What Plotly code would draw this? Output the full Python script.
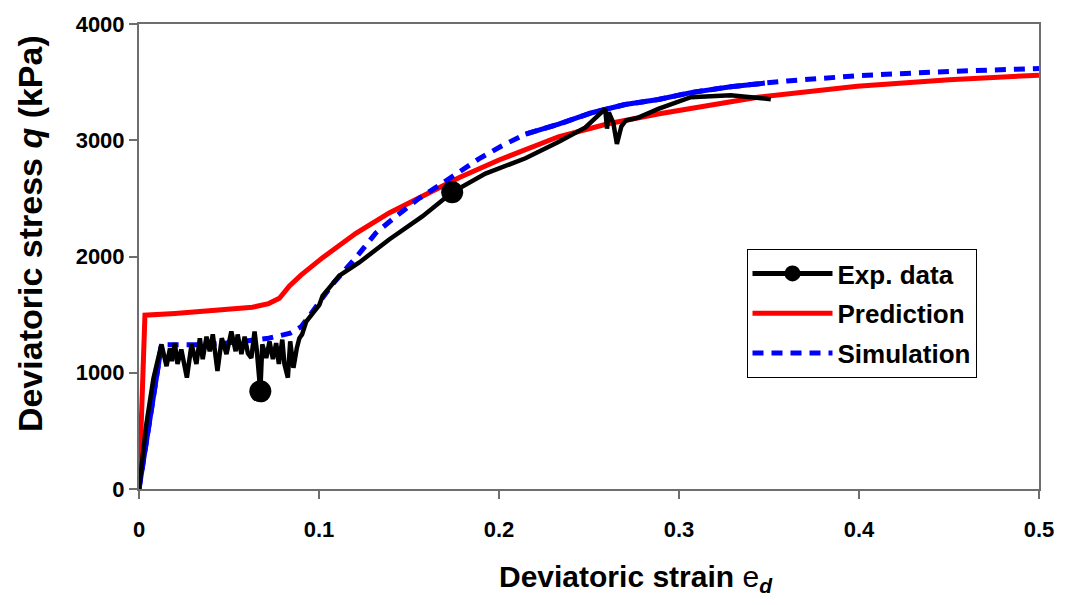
import plotly.graph_objects as go

# ---------------- data ----------------
tick_vals_x = [0, 0.1, 0.2, 0.3, 0.4, 0.5]
tick_text_x = ["0", "0.1", "0.2", "0.3", "0.4", "0.5"]
tick_vals_y = [0, 1000, 2000, 3000, 4000]
tick_text_y = ["0", "1000", "2000", "3000", "4000"]

exp_x = [0, 0.004, 0.008, 0.0125, 0.0153, 0.0172, 0.0183, 0.0199, 0.0214, 0.0235,
         0.0266, 0.0292, 0.0319, 0.0338, 0.0354, 0.0375, 0.0393, 0.0410, 0.0436, 0.0460,
         0.0486, 0.0513, 0.0537, 0.0548, 0.0569, 0.0587, 0.0605, 0.0624, 0.0642, 0.0655,
         0.0674, 0.0685, 0.0707, 0.0725, 0.0744, 0.0762, 0.0777, 0.0796, 0.0808, 0.0827,
         0.0840, 0.0858, 0.0877, 0.0891, 0.0906, 0.0929, 0.0965, 0.1002, 0.1020, 0.1113,
         0.1224, 0.139, 0.1574, 0.174, 0.1925, 0.2147, 0.233, 0.248, 0.2590, 0.2600,
         0.2610, 0.2635, 0.2655, 0.2680, 0.2705, 0.2774, 0.2885, 0.3066, 0.3287, 0.351]
exp_y = [0, 550, 950, 1244, 1057, 1210, 1100, 1255, 1075, 1200,
         958, 1244, 1075, 1297, 1117, 1310, 1185, 1330, 1015, 1297,
         1160, 1355, 1185, 1330, 1160, 1310, 1167, 1127, 1355, 1185,
         840, 1244, 1127, 1270, 1117, 1255, 1075, 1285, 1075, 958,
         1270, 1043, 1213, 1297, 1330, 1440, 1510, 1584, 1662, 1836,
         1949, 2146, 2345, 2552, 2713, 2845, 2985, 3110, 3270, 3100,
         3240, 3150, 2968, 3120, 3170, 3195, 3270, 3370, 3387, 3353]
exp_marker_idx = [30, 53]

pred_x = [0, 0.0033, 0.02, 0.045, 0.063, 0.072, 0.078, 0.0836, 0.09, 0.102,
          0.1205, 0.139, 0.1574, 0.178, 0.2, 0.233, 0.26, 0.2883, 0.3437, 0.399,
          0.45, 0.5]
pred_y = [0, 1495, 1510, 1535, 1563, 1595, 1640, 1746, 1840, 1990,
          2200, 2375, 2520, 2680, 2830, 3030, 3140, 3226, 3370, 3464,
          3520, 3560]

sim_x = [0, 0.0125, 0.03, 0.045, 0.063, 0.072, 0.084, 0.0902, 0.0947, 0.1002,
         0.1076, 0.1205, 0.1316, 0.1427, 0.1556, 0.1667, 0.1777, 0.1888, 0.2017, 0.2147,
         0.2331, 0.2516, 0.27, 0.2885, 0.3066, 0.3287, 0.3477, 0.36, 0.399, 0.45, 0.5]
sim_y = [0, 1240, 1240, 1250, 1280, 1297, 1340, 1397, 1490, 1600,
         1764, 1990, 2203, 2345, 2500, 2611, 2730, 2840, 2953, 3053,
         3138, 3237, 3307, 3350, 3410, 3460, 3492, 3510, 3555, 3592, 3617]

assert len(exp_x) == len(exp_y) and len(pred_x) == len(pred_y) and len(sim_x) == len(sim_y)

# ---------------- style ----------------
FONT = "Liberation Sans, Arial, sans-serif"
BLACK, RED, BLUE = "#000000", "#ff0000", "#0000ff"
AXIS_COL = "#6e6e6e"

fig = go.Figure()

# Prediction
fig.add_trace(go.Scatter(x=pred_x, y=pred_y, mode="lines", name="Prediction",
                         legendgroup="pred", legendrank=2,
                         line=dict(color=RED, width=5)))

# Simulation (dashed), with dense solid-looking parts
fig.add_trace(go.Scatter(x=sim_x, y=sim_y, mode="lines", name="Simulation",
                         legendgroup="sim", legendrank=3,
                         line=dict(color=BLUE, width=5, dash="11px,8px")))
solid_sets = [(0, 1), (19, 26)]
for a, b in solid_sets:
    fig.add_trace(go.Scatter(x=sim_x[a:b + 1], y=sim_y[a:b + 1], mode="lines",
                             showlegend=False, legendgroup="sim", hoverinfo="skip",
                             line=dict(color=BLUE, width=5)))

# Experimental data
fig.add_trace(go.Scatter(x=exp_x, y=exp_y, mode="lines", name="Exp. data",
                         showlegend=False, legendgroup="exp",
                         line=dict(color=BLACK, width=4.5)))
fig.add_trace(go.Scatter(x=[exp_x[i] for i in exp_marker_idx],
                         y=[exp_y[i] for i in exp_marker_idx],
                         mode="markers", showlegend=False, legendgroup="exp",
                         marker=dict(color=BLACK, size=22, symbol="circle")))
# legend entry for Exp. data (line + marker)
fig.add_trace(go.Scatter(x=[None], y=[None], mode="lines+markers", name="Exp. data",
                         legendgroup="exp", legendrank=1,
                         line=dict(color=BLACK, width=5),
                         marker=dict(color=BLACK, size=16)))

axis_common = dict(showline=True, linecolor=AXIS_COL, linewidth=2, mirror=True,
                   showgrid=False, zeroline=False, ticks="outside", ticklen=8,
                   tickwidth=1.5, tickcolor=AXIS_COL,
                   tickfont=dict(family=FONT, size=22, color="#000", weight="bold"))

fig.update_layout(
    width=1066, height=605,
    margin=dict(l=139, r=24, t=18, b=116),
    paper_bgcolor="white", plot_bgcolor="white",
    xaxis=dict(range=[0, 0.5], tickvals=tick_vals_x, ticktext=tick_text_x,
               ticklabelstandoff=12, **axis_common),
    yaxis=dict(range=[0, 4000], tickvals=tick_vals_y, ticktext=tick_text_y,
               ticklabelstandoff=0, **axis_common),
    legend=dict(x=0.675, y=0.516, xanchor="left", yanchor="top",
                bgcolor="white", bordercolor="#000", borderwidth=1,
                itemwidth=80, tracegroupgap=3, traceorder="grouped",
                font=dict(family=FONT, size=26, color="#000", weight="bold")),
    showlegend=True,
    annotations=[
        dict(text="Deviatoric stress <i>q</i> (kPa)", textangle=-90,
             xref="paper", yref="paper", x=-0.1218, y=0.549,
             xanchor="center", yanchor="middle", showarrow=False,
             font=dict(family=FONT, size=34, color="#000", weight="bold")),
        dict(text="Deviatoric strain <span style='font-weight:normal'>e</span><sub><i>d</i></sub>",
             xref="paper", yref="paper", x=0.552, y=-0.192,
             xanchor="center", yanchor="middle", showarrow=False,
             font=dict(family=FONT, size=30, color="#000", weight="bold")),
    ],
)

fig.write_html("out.html")
